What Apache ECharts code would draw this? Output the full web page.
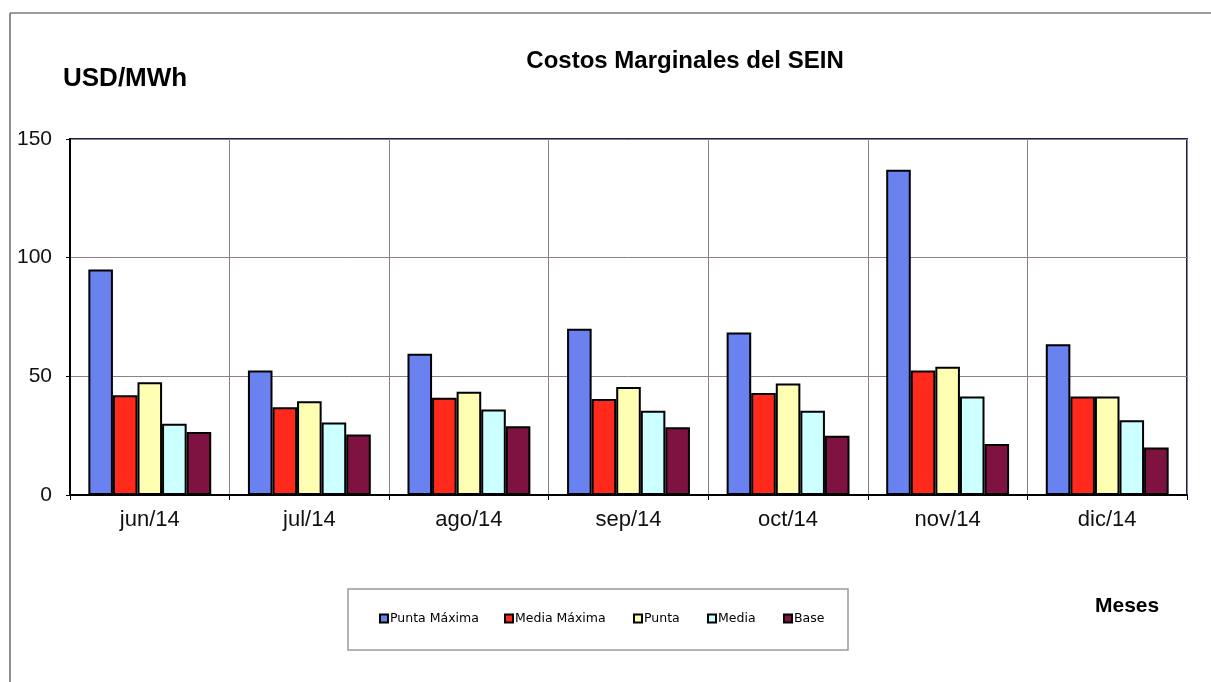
<!DOCTYPE html>
<html>
<head>
<meta charset="utf-8">
<script src="https://cdn.jsdelivr.net/npm/echarts@6/dist/echarts.min.js"></script>
<style>
  html, body { margin: 0; padding: 0; background: #ffffff; }
  #chart { width: 1211px; height: 682px; }
</style>
</head>
<body>
<div id="chart"></div>
<script>
// Monthly marginal costs of the SEIN, USD/MWh
const months = ['jun/14', 'jul/14', 'ago/14', 'sep/14', 'oct/14', 'nov/14', 'dic/14'];
const seriesNames = ['Punta Máxima', 'Media Máxima', 'Punta', 'Media', 'Base'];
const puntaMaxima = [95, 52.5, 59.5, 70, 68.5, 137, 63.5];
const mediaMaxima = [42, 37, 41, 40.5, 43, 52.5, 41.5];
const punta = [47.5, 39.5, 43.5, 45.5, 47, 54, 41.5];
const media = [30, 30.5, 36, 35.5, 35.5, 41.5, 31.5];
const base = [26.5, 25.5, 29, 28.5, 25, 21.5, 20];
const yTicks = { min: 0, max: 150, interval: 50 };

const palette = ['#6a82f0', '#ff2a1c', '#ffffb4', '#ccffff', '#7e1240'];
const values = [puntaMaxima, mediaMaxima, punta, media, base];
const font = 'Liberation Sans, Arial, sans-serif';

const chart = echarts.init(document.getElementById('chart'), null, { renderer: 'canvas' });

// one legend per entry so each can sit at its own spot inside the box
const legendLefts = [379, 504, 633, 707, 783];
const legends = seriesNames.map((name, i) => ({
  data: [name],
  left: legendLefts[i],
  top: 612,
  padding: 0,
  itemWidth: 8,
  itemHeight: 8,
  icon: 'rect',
  itemStyle: { borderColor: '#000', borderWidth: 2 },
  textStyle: { fontFamily: 'DejaVu Sans, sans-serif', fontSize: 12.5, color: '#000', padding: [0, 0, 0, -3] },
  selectedMode: false
}));

chart.setOption({
  animation: false,
  backgroundColor: '#ffffff',
  grid: {
    left: 70, right: 24, top: 139, bottom: 187,
    show: true, borderColor: '#1e1e48', borderWidth: 2, backgroundColor: 'transparent'
  },
  title: {
    text: 'Costos Marginales del SEIN',
    left: 680, top: 44, textAlign: 'center',
    textStyle: { fontFamily: font, fontSize: 24, fontWeight: 'bold', color: '#000' }
  },
  legend: legends,
  xAxis: {
    type: 'category',
    data: months,
    boundaryGap: true,
    axisLine: { lineStyle: { color: '#000', width: 2 } },
    axisTick: { show: true, length: 5, lineStyle: { color: '#000', width: 1 } },
    axisLabel: { margin: 14, fontFamily: font, fontSize: 22, color: '#111' },
    splitLine: { show: true, interval: 0, lineStyle: { color: '#8c7f88', width: 1 } }
  },
  yAxis: {
    type: 'value',
    min: yTicks.min, max: yTicks.max, interval: yTicks.interval,
    axisLine: { show: true, lineStyle: { color: '#000', width: 2 } },
    axisTick: { show: true, length: 4, lineStyle: { color: '#000', width: 1 } },
    axisLabel: { margin: 18, fontFamily: font, fontSize: 21, color: '#111' },
    splitLine: { show: true, lineStyle: { color: '#8c7f88', width: 1 } }
  },
  series: seriesNames.map((name, i) => ({
    name: name,
    type: 'bar',
    data: values[i],
    barGap: '0%',
    barCategoryGap: '23%',
    itemStyle: { color: palette[i], borderColor: '#000', borderWidth: 2 }
  })),
  graphic: [
    // outer frame (top and left edges)
    { type: 'line', shape: { x1: 10, y1: 13, x2: 1211, y2: 13 }, style: { stroke: '#7a7a7a', lineWidth: 1.5 }, z: 0 },
    { type: 'line', shape: { x1: 10, y1: 13, x2: 10, y2: 682 }, style: { stroke: '#6a6a6a', lineWidth: 1.5 }, z: 0 },
    // legend box
    { type: 'rect', shape: { x: 348, y: 589, width: 500, height: 61 }, style: { fill: '#ffffff', stroke: '#9a9a9a', lineWidth: 1.5 }, z: -1 },
    {
      type: 'text', left: 63, top: 66,
      style: { text: 'USD/MWh', fontFamily: font, fontSize: 26, fontWeight: 'bold', fill: '#000' }
    },
    {
      type: 'text', left: 1095, top: 596,
      style: { text: 'Meses', fontFamily: font, fontSize: 21, fontWeight: 'bold', fill: '#000' }
    }
  ]
});
</script>
</body>
</html>
